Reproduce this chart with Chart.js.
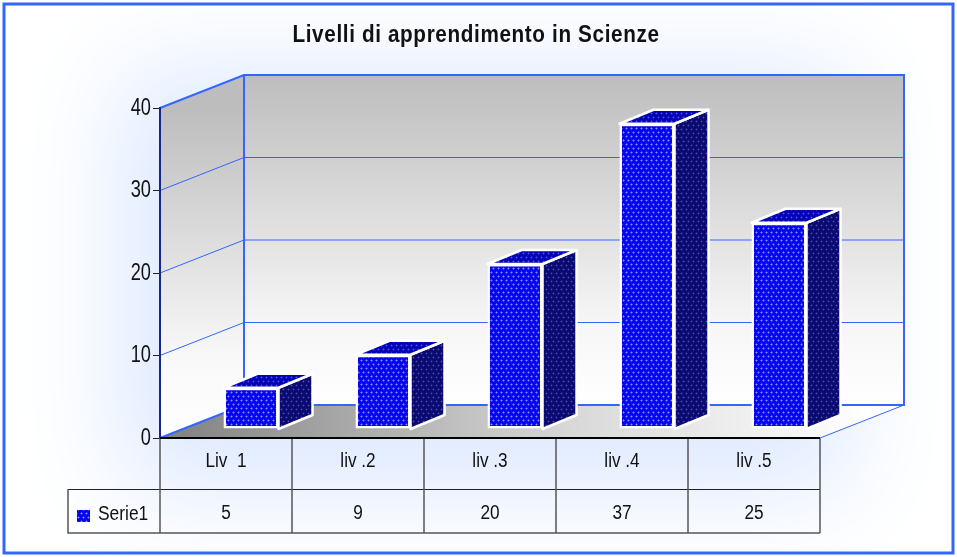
<!DOCTYPE html>
<html>
<head>
<meta charset="utf-8">
<title>Livelli di apprendimento in Scienze</title>
<script src="https://cdn.jsdelivr.net/npm/chart.js@4/dist/chart.umd.js"></script>
<style>
  html, body { margin: 0; padding: 0; background: #fff; }
  #wrap { width: 957px; height: 557px; }
</style>
</head>
<body>
<div id="wrap"><canvas id="chart" width="957" height="557"></canvas></div>
<script>
// ================= dati =================
const titolo = "Livelli di apprendimento in Scienze";
const categorie = ["Liv  1", "liv .2", "liv .3", "liv .4", "liv .5"];
const serie1 = [5, 9, 20, 37, 25];
const nomeSerie = "Serie1";
const tickY = [0, 10, 20, 30, 40];

// ================= stile =================
const BLU = "#3366ff";
const FONT = "'Liberation Sans', sans-serif";
const PARETE = [84, -33];   // profondita' del piano
const BARRA_OFF = [25, -9]; // la barra sta a meta' profondita'
const BARRA_P = [34, -14];  // profondita' della barra
const RIGA1 = 489, RIGA2 = 533, LEG_X = 68;

function trama(fondo, alone, punto) {
  const c = document.createElement("canvas");
  c.width = 5; c.height = 8;
  const g = c.getContext("2d");
  g.fillStyle = fondo;
  g.fillRect(0, 0, 5, 8);
  [[1, 1], [3, 5]].forEach(([x, y]) => {
    g.fillStyle = alone;
    g.fillRect(x - 1, y, 3, 1);
    g.fillRect(x, y - 1, 1, 3);
    g.fillStyle = punto;
    g.fillRect(x, y, 1, 1);
  });
  return g.createPattern(c, "repeat");
}

const ctx = document.getElementById("chart").getContext("2d");
const fronte = trama("#0606ee", "#4040ff", "#9090ff");
const cima = trama("#0404b4", "#2020d0", "#5050ea");
const lato = trama("#0a0a70", "#20208a", "#5050b0");

function poligono(c, punti) {
  c.beginPath();
  punti.forEach((p, i) => i ? c.lineTo(p[0], p[1]) : c.moveTo(p[0], p[1]));
  c.closePath();
}

// testo stretto: il font "narrow" non c'e', quindi si schiaccia in orizzontale
function testo(c, s, x, y, size, sx, align) {
  c.save();
  c.font = size + "px " + FONT;
  c.textAlign = align || "center";
  c.textBaseline = "middle";
  c.translate(x, y);
  c.scale(sx, 1);
  c.fillText(s, 0, 0);
  c.restore();
}

// sfondo, cornice, pareti
const sfondo3d = {
  id: "sfondo3d",
  beforeDraw(chart) {
    const c = chart.ctx;
    const a = chart.chartArea;
    const [dx, dy] = PARETE;
    c.save();
    c.fillStyle = "#fff";
    c.fillRect(0, 0, 957, 557);

    // alone azzurro: solo l'ombra, il rettangolo resta fuori dalla tela
    c.save();
    c.shadowColor = "#dde9ff";
    c.shadowBlur = 100;
    c.shadowOffsetX = 2000;
    c.fillStyle = "#000";
    c.fillRect(120 - 2000, 70, 730, 420);
    c.restore();

    c.strokeStyle = BLU;
    c.lineWidth = 3;
    c.strokeRect(4, 4, 949, 549);

    // pareti
    const gp = c.createLinearGradient(0, a.top + dy, 0, a.bottom + dy);
    gp.addColorStop(0, "#bdbdbd");
    gp.addColorStop(0.75, "#f6f6f6");
    gp.addColorStop(1, "#ffffff");
    c.fillStyle = gp;
    c.fillRect(a.left + dx, a.top + dy, a.width, a.height);

    const gs = c.createLinearGradient(0, a.top, 0, a.bottom);
    gs.addColorStop(0, "#bdbdbd");
    gs.addColorStop(0.75, "#f8f8f8");
    gs.addColorStop(1, "#ffffff");
    c.fillStyle = gs;
    poligono(c, [[a.left, a.top], [a.left + dx, a.top + dy], [a.left + dx, a.bottom + dy], [a.left, a.bottom]]);
    c.fill();

    // pavimento
    const gf = c.createLinearGradient(a.left, 0, a.right + dx, 0);
    gf.addColorStop(0, "#808080");
    gf.addColorStop(0.55, "#d8d8d8");
    gf.addColorStop(0.95, "#ffffff");
    c.fillStyle = gf;
    poligono(c, [[a.left, a.bottom], [a.right, a.bottom], [a.right + dx, a.bottom + dy], [a.left + dx, a.bottom + dy]]);
    c.fill();

    // griglia
    c.strokeStyle = BLU;
    c.lineWidth = 1;
    tickY.forEach(v => {
      if (v === 0 || v === 40) return;
      const y = chart.scales.y.getPixelForValue(v);
      c.beginPath();
      c.moveTo(a.left, y);
      c.lineTo(a.left + dx, y + dy);
      c.lineTo(a.right + dx, y + dy);
      c.stroke();
    });

    // bordi delle pareti
    c.lineWidth = 2;
    c.beginPath();
    c.moveTo(a.left, a.top);
    c.lineTo(a.left + dx, a.top + dy);
    c.lineTo(a.right + dx, a.top + dy);
    c.lineTo(a.right + dx, a.bottom + dy);
    c.lineTo(a.left + dx, a.bottom + dy);
    c.lineTo(a.left, a.bottom);
    c.moveTo(a.left + dx, a.top + dy);
    c.lineTo(a.left + dx, a.bottom + dy);
    c.stroke();
    c.lineWidth = 1;
    c.beginPath();
    c.moveTo(a.right, a.bottom);
    c.lineTo(a.right + dx, a.bottom + dy);
    c.stroke();
    c.restore();
  }
};

// facce laterali e superiori; la faccia frontale la disegna Chart.js
const barre3d = {
  id: "barre3d",
  beforeDatasetsDraw(chart) {
    const c = chart.ctx;
    const base = chart.scales.y.getPixelForValue(0);
    const [ox, oy] = BARRA_OFF;
    const [px, py] = BARRA_P;
    c.save();
    c.strokeStyle = "#fff";
    c.lineWidth = 2.5;
    c.lineJoin = "round";
    chart.getDatasetMeta(0).data.forEach(el => {
      const x0 = el.x - el.width / 2 + ox;
      const x1 = el.x + el.width / 2 + ox;
      const yt = el.y + oy;
      const yb = base + oy;
      poligono(c, [[x1, yt], [x1 + px, yt + py], [x1 + px, yb + py], [x1, yb]]);
      c.fillStyle = lato;
      c.fill();
      c.stroke();
      poligono(c, [[x0, yt], [x1, yt], [x1 + px, yt + py], [x0 + px, yt + py]]);
      c.fillStyle = cima;
      c.fill();
      c.stroke();
    });
    c.restore();
    c.save();
    c.translate(ox, oy);
  },
  afterDatasetsDraw(chart) {
    chart.ctx.restore();
  }
};

// tabella dati, titolo ed etichette degli assi
const tabella = {
  id: "tabella",
  afterDraw(chart) {
    const c = chart.ctx;
    const a = chart.chartArea;
    const sx = chart.scales.x;
    const sy = chart.scales.y;
    const cella = a.width / categorie.length;
    c.save();
    c.strokeStyle = "#222";
    c.lineWidth = 1;
    c.beginPath();
    c.moveTo(LEG_X, RIGA1 + 0.5);
    c.lineTo(a.right, RIGA1 + 0.5);
    c.stroke();

    c.strokeStyle = "#555";
    c.lineWidth = 1.5;
    c.beginPath();
    c.moveTo(LEG_X, RIGA1);
    c.lineTo(LEG_X, RIGA2);
    c.lineTo(a.right, RIGA2);
    for (let i = 0; i <= categorie.length; i++) {
      const x = a.left + cella * i;
      c.moveTo(x, a.bottom);
      c.lineTo(x, RIGA2);
    }
    c.stroke();

    c.strokeStyle = "#000";
    c.lineWidth = 2;
    c.beginPath();
    c.moveTo(a.left, a.bottom);
    c.lineTo(a.right, a.bottom);
    c.stroke();

    c.fillStyle = "#111";
    categorie.forEach((s, i) => testo(c, s, sx.getPixelForValue(i), 461, 20, 0.86));
    serie1.forEach((v, i) => testo(c, String(v), sx.getPixelForValue(i), 513, 20, 0.86));
    testo(c, nomeSerie, 98, 514, 20, 0.87, "left");
    sy.ticks.forEach(t => testo(c, String(t.value), 151, sy.getPixelForValue(t.value), 24, 0.76, "right"));

    c.save();
    c.font = "bold 23px " + FONT;
    c.letterSpacing = "0.7px";
    c.textAlign = "center";
    c.textBaseline = "middle";
    c.translate(476, 36);
    c.scale(0.9, 1);
    c.fillText(titolo, 0, 0);
    c.restore();

    c.fillStyle = fronte;
    c.fillRect(77, 510, 13, 12);
    c.restore();
  }
};

new Chart(ctx, {
  type: "bar",
  data: {
    labels: categorie,
    datasets: [{
      label: nomeSerie,
      data: serie1,
      backgroundColor: fronte,
      borderColor: "#fff",
      borderWidth: 2.5,
      borderSkipped: false,
      barPercentage: 0.417,
      categoryPercentage: 1,
      clip: false
    }]
  },
  options: {
    responsive: false,
    animation: false,
    layout: { padding: { left: 0, right: 137, top: 108, bottom: 0 } },
    plugins: {
      legend: { display: false },
      tooltip: { enabled: false },
      title: { display: false }
    },
    scales: {
      x: {
        grid: { display: false },
        border: { display: false },
        ticks: { display: false },
        afterFit(s) { s.height = 119; }
      },
      y: {
        min: 0,
        max: 40,
        afterBuildTicks(s) { s.ticks = tickY.map(v => ({ value: v })); },
        grid: { drawOnChartArea: false, drawTicks: true, tickLength: 7, color: "#222" },
        border: { color: "#14288c", width: 2 },
        ticks: { display: false },
        afterFit(s) { s.width = 160; }
      }
    }
  },
  plugins: [sfondo3d, barre3d, tabella]
});
</script>
</body>
</html>
